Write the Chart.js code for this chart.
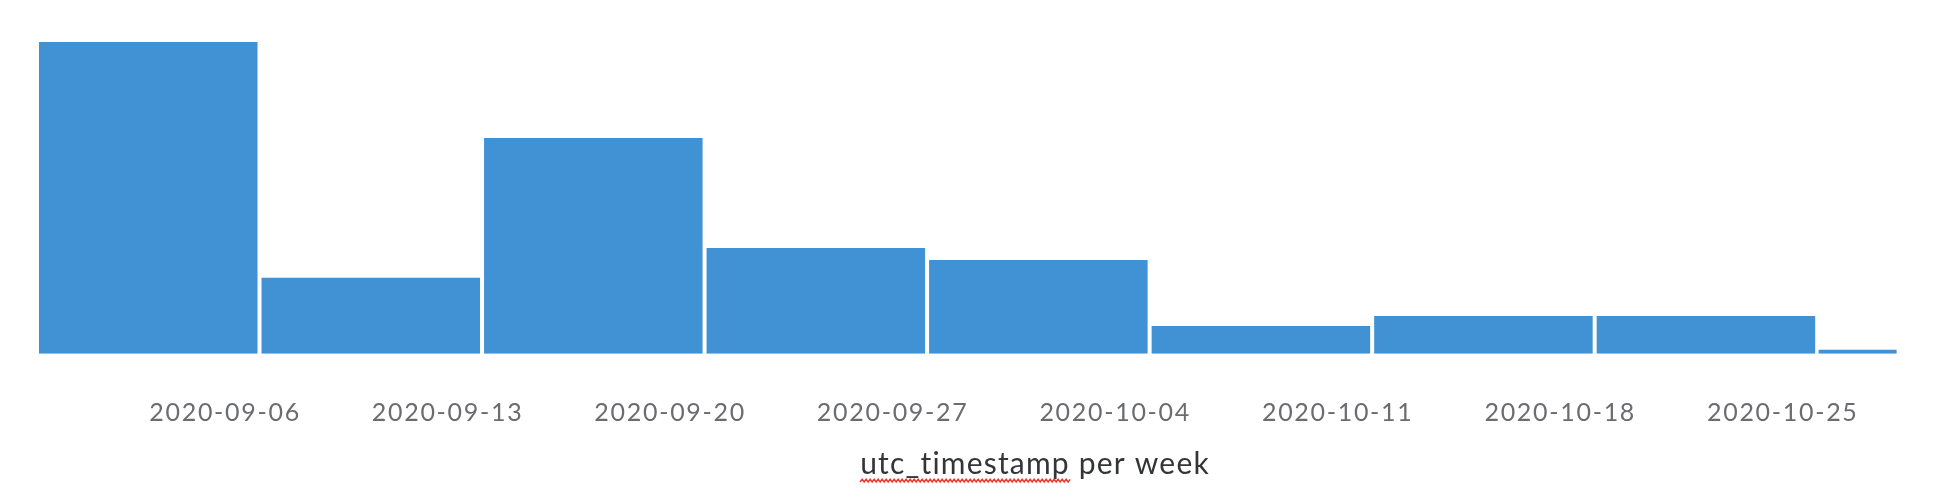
<!DOCTYPE html>
<html>
<head>
<meta charset="utf-8">
<script src="https://cdn.jsdelivr.net/npm/chart.js@4.4.1/dist/chart.umd.min.js"></script>
<style>
  html, body { margin: 0; padding: 0; background: #ffffff; }
  #wrap { width: 1958px; height: 500px; position: relative; }
</style>
</head>
<body>
<div id="wrap"><canvas id="c"></canvas></div>
<script>
// ---- data ----
const weekStarts = ['2020-08-31', '2020-09-07', '2020-09-14', '2020-09-21', '2020-09-28', '2020-10-05', '2020-10-12', '2020-10-19'];
const weekCounts = [1000, 244, 692, 339, 301, 89, 121, 121];
const partialStart = '2020-10-26';
const partialEnd = '2020-10-28T13:00:00Z';
const partialCount = 13;
const tickLabels = ['2020-09-06', '2020-09-13', '2020-09-20', '2020-09-27', '2020-10-04', '2020-10-11', '2020-10-18', '2020-10-25'];
const tickZone = '+02:00';
const axisTitle = 'utc_timestamp per week';
const underlinedWord = 'utc_timestamp';

// ---- helpers: convert dates into days since first bucket ----
const DAY = 86400000;
const t0 = Date.parse(weekStarts[0] + 'T00:00:00Z');
const toDay = s => (Date.parse(s) - t0) / DAY;

const fullBars = weekStarts.map((d, i) => ({ x: toDay(d + 'T00:00:00Z') + 3.5, y: weekCounts[i] }));
const pStart = toDay(partialStart + 'T00:00:00Z');
const pEnd = toDay(partialEnd);
const partialBars = [{ x: (pStart + pEnd) / 2, y: partialCount }];
const tickDays = tickLabels.map(l => toDay(l + 'T00:00:00' + tickZone));

const BAR = '#4191D5';

const spacingPlugin = {
  id: 'spacing',
  beforeDraw(chart) { chart.ctx.letterSpacing = '1.7px'; }
};

const titlePlugin = {
  id: 'axisTitleDraw',
  afterDraw(chart, args, opts) {
    const ctx = chart.ctx;
    ctx.save();
    ctx.letterSpacing = '1.2px';
    ctx.font = '30px Lato';
    ctx.fillStyle = '#343539';
    ctx.textAlign = 'left';
    ctx.textBaseline = 'alphabetic';
    const total = ctx.measureText(axisTitle).width;
    const startX = opts.centerX - total / 2;
    ctx.fillText(axisTitle, startX, opts.baseline);
    const wordW = ctx.measureText(underlinedWord).width;
    // spell-check squiggle
    ctx.strokeStyle = '#e8382d';
    ctx.lineWidth = 1.4;
    ctx.lineJoin = 'miter';
    ctx.beginPath();
    const yLow = opts.baseline + 8.5;
    const yHigh = opts.baseline + 5.8;
    let up = true;
    ctx.moveTo(startX, yLow);
    for (let x = startX + 2; x <= startX + wordW + 1; x += 2) {
      ctx.lineTo(x, up ? yHigh : yLow);
      up = !up;
    }
    ctx.stroke();
    ctx.restore();
  }
};

new Chart(document.getElementById('c'), {
  type: 'bar',
  data: {
    datasets: [
      {
        data: fullBars,
        xAxisID: 'x',
        grouped: false,
        backgroundColor: BAR,
        borderWidth: 0,
        categoryPercentage: 1,
        barPercentage: 0.982
      },
      {
        data: partialBars,
        xAxisID: 'x2',
        grouped: false,
        backgroundColor: BAR,
        borderWidth: 0,
        categoryPercentage: 1,
        barPercentage: 0.965
      }
    ]
  },
  options: {
    responsive: true,
    maintainAspectRatio: false,
    animation: false,
    events: [],
    layout: { padding: { left: 37, right: 60, top: 42, bottom: 28.7 } },
    plugins: {
      legend: { display: false },
      tooltip: { enabled: false },
      axisTitleDraw: { centerX: 1035, baseline: 473.5 }
    },
    scales: {
      x: {
        type: 'linear',
        min: 0,
        max: pEnd,
        bounds: 'data',
        offset: false,
        grid: { display: false, drawTicks: false },
        border: { display: false },
        afterBuildTicks: s => { s.ticks = tickDays.map(v => ({ value: v })); },
        ticks: {
          autoSkip: false,
          maxRotation: 0,
          minRotation: 0,
          padding: 43.8,
          color: '#6b6c70',
          font: { family: 'Lato', size: 25 },
          callback: (v, i) => tickLabels[i]
        }
      },
      x2: {
        type: 'linear',
        display: false,
        min: 0,
        max: pEnd,
        bounds: 'data',
        offset: false,
        afterBuildTicks: s => { s.ticks = [{ value: pStart }, { value: pEnd }]; }
      },
      y: {
        display: false,
        min: 0,
        max: Math.max(...weekCounts)
      }
    }
  },
  plugins: [spacingPlugin, titlePlugin]
});
</script>
</body>
</html>
